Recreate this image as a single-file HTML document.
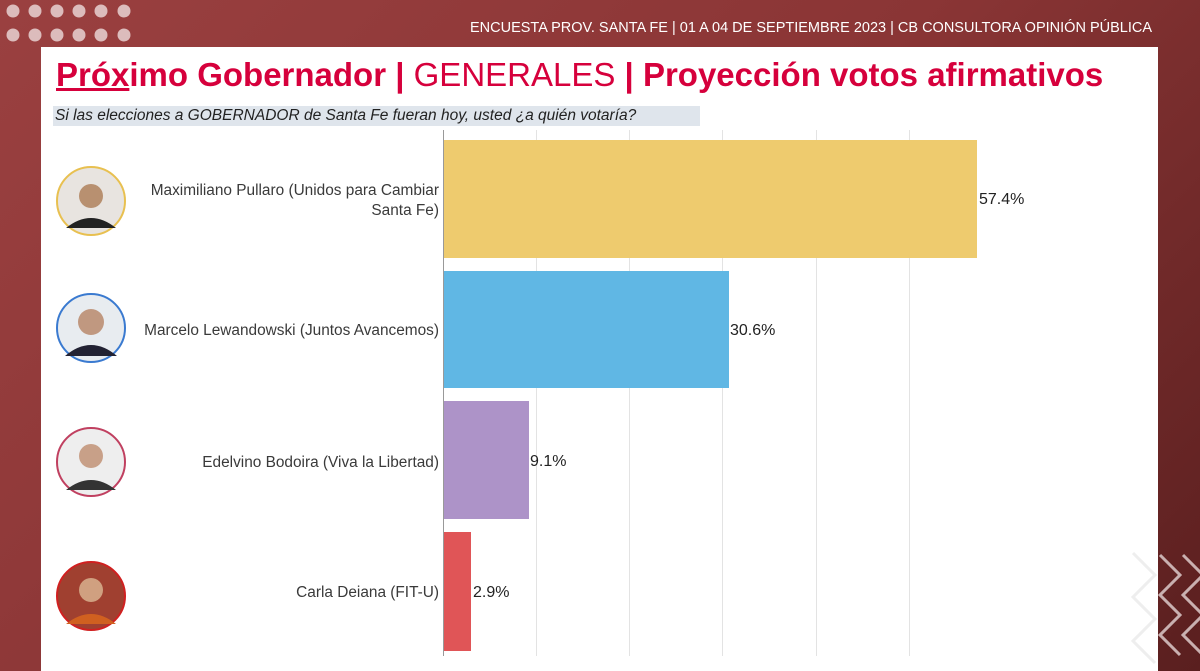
<!DOCTYPE html>
<html><head><style>
body{margin:0;width:1200px;height:671px;overflow:hidden;background:linear-gradient(135deg,#9a4040 0%,#8a3535 50%,#5a1f1f 100%);font-family:"Liberation Sans",sans-serif;position:relative}
.panel{position:absolute;left:41px;top:47px;width:1117px;height:624px;background:#fff}
.t{position:absolute}
</style></head><body>
<div class="t" style="right:48px;top:20px;color:#fff;font-size:14.5px">ENCUESTA PROV. SANTA FE | 01 A 04 DE SEPTIEMBRE 2023 | CB CONSULTORA OPINIÓN PÚBLICA</div>
<div class="panel"></div>
<div class="t" style="left:56px;top:56px;font-size:33px;color:#d6003c;white-space:nowrap"><b><u style="text-decoration-thickness:3px">Próx</u>imo Gobernador |</b> GENERALES <b>| Proyección votos afirmativos</b></div>
<div class="t" style="left:53px;top:106px;width:647px;height:20px;background:#dfe5ec"></div>
<div class="t" style="left:55px;top:107px;font-size:15.5px;font-style:italic;color:#222">Si las elecciones a GOBERNADOR de Santa Fe fueran hoy, usted ¿a quién votaría?</div>
<svg class="t" style="left:0;top:0" width="1200" height="671">
<g stroke="#e3e3e3" stroke-width="1">
<line x1="536.5" y1="130" x2="536.5" y2="656"/><line x1="629.5" y1="130" x2="629.5" y2="656"/><line x1="722.5" y1="130" x2="722.5" y2="656"/><line x1="816.5" y1="130" x2="816.5" y2="656"/><line x1="909.5" y1="130" x2="909.5" y2="656"/>
</g>
<rect x="443" y="140" width="534" height="118" fill="#eecb6e"/>
<rect x="443" y="271" width="286" height="117" fill="#60b7e4"/>
<rect x="443" y="401" width="86" height="118" fill="#ad93c8"/>
<rect x="443" y="532" width="28" height="119" fill="#e05557"/>
<line x1="443.5" y1="130" x2="443.5" y2="656" stroke="#999"/>
<g font-size="16" fill="#222"><text x="979" y="204">57.4%</text><text x="730" y="335">30.6%</text><text x="530" y="466">9.1%</text><text x="473" y="597">2.9%</text></g>
<g font-size="15.4" fill="#3a3a3a" text-anchor="end"><text x="439" y="195">Maximiliano Pullaro (Unidos para Cambiar</text><text x="439" y="215">Santa Fe)</text><text x="439" y="335">Marcelo Lewandowski (Juntos Avancemos)</text><text x="439" y="467">Edelvino Bodoira (Viva la Libertad)</text><text x="439" y="597">Carla Deiana (FIT-U)</text></g>
<g stroke-width="2">
<circle cx="91" cy="201" r="34" fill="#e8e4e0" stroke="#e8c050"/><circle cx="91" cy="196" r="12" fill="#b89070"/><path d="M66 228 q25 -20 50 0" fill="#222"/>
<circle cx="91" cy="328" r="34" fill="#e8ecf0" stroke="#3a7ad0"/><circle cx="91" cy="322" r="13" fill="#c09880"/><path d="M65 356 q26 -22 52 0" fill="#223"/>
<circle cx="91" cy="462" r="34" fill="#eeeeee" stroke="#c04060"/><circle cx="91" cy="456" r="12" fill="#c8a088"/><path d="M66 490 q25 -20 50 0" fill="#333"/>
<circle cx="91" cy="596" r="34" fill="#a04030" stroke="#d02020"/><circle cx="91" cy="590" r="12" fill="#d0a080"/><path d="M66 624 q25 -20 50 0" fill="#d06020"/>
</g>
<g stroke="#c9b0b0" stroke-width="3" fill="none"><path d="M1160 555 l20 20 l-20 20 l20 20 l-20 20 l20 20"/><path d="M1183 555 l20 20 l-20 20 l20 20 l-20 20 l20 20"/></g>
<g stroke="#eee" stroke-width="3" fill="none"><path d="M1133 553 l22 22 l-22 22 l22 22 l-22 22 l22 22"/></g>
<g fill="#dcbcbc"><circle cx="13" cy="11" r="6.5"/><circle cx="35" cy="11" r="6.5"/><circle cx="57" cy="11" r="6.5"/><circle cx="79" cy="11" r="6.5"/><circle cx="101" cy="11" r="6.5"/><circle cx="124" cy="11" r="6.5"/><circle cx="13" cy="35" r="6.5"/><circle cx="35" cy="35" r="6.5"/><circle cx="57" cy="35" r="6.5"/><circle cx="79" cy="35" r="6.5"/><circle cx="101" cy="35" r="6.5"/><circle cx="124" cy="35" r="6.5"/></g>
</svg>
</body></html>
